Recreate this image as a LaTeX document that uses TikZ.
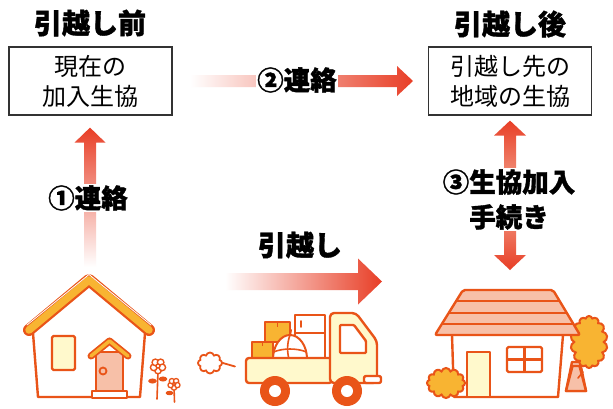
\documentclass[tikz,border=0pt]{standalone}
\usepackage{fontspec}
\setmainfont{Noto Sans CJK JP}
\newfontfamily\heavyjp{Noto Sans CJK JP}[BoldFeatures={FakeBold=1.3}]
\usetikzlibrary{shapes.symbols,calc}

\definecolor{arrowred}{RGB}{232,62,38}
\definecolor{midred}{RGB}{244,170,148}
\definecolor{lineor}{RGB}{233,84,24}
\definecolor{roofyel}{RGB}{248,180,50}
\definecolor{paleyel}{RGB}{255,249,204}
\definecolor{pinkfill}{RGB}{247,192,168}
\definecolor{boxline}{RGB}{51,51,51}

\tikzset{
  title/.style={font=\fontsize{28}{30}\selectfont\heavyjp\bfseries, text=black, inner sep=0pt},
  infobox/.style={draw=boxline, line width=1.2pt, minimum width=163pt,
    minimum height=68pt, align=center, font=\fontsize{24}{30}\selectfont, inner sep=0pt},
  steplabel/.style={font=\fontsize{26.5}{35}\selectfont\heavyjp\bfseries, fill=white,
    inner sep=1pt, align=center},
  ol/.style={draw=lineor, line width=2.4pt, line join=round, line cap=round},
  bush/.style={cloud, draw=lineor, fill=roofyel, line width=2pt, inner sep=0pt},
}

\begin{document}
\begin{tikzpicture}[x=1pt,y=-1pt]
\useasboundingbox[fill=white] (0,0) rectangle (613,408);

% ---------- titles and boxes ----------
\node[title] (tbefore) at (90,23) {引越し前};
\node[title] (tafter) at (510,24) {引越し後};
\node[infobox] (cur) at (90.5,81) {現在の\\加入生協};
\node[infobox] (dest) at (510,81) {引越し先の\\地域の生協};

% ---------- anchor points of the arrows ----------
\coordinate (h1top) at (90,267);
\coordinate (curtip) at ($(cur.south)+(-0.5,12)$);
\coordinate (c2s) at (190,81);
\coordinate (c2e) at (413,81);
\coordinate (d3top) at ($(dest.south)+(0,5)$);
\coordinate (d3mid) at (510,195);
\coordinate (d3bot) at (510,270);
\coordinate (mvs) at (225,281.5);
\coordinate (mve) at (382,281.5);

% (1) upward arrow from the old house to the current co-op
\shade[top color=arrowred, middle color=arrowred!55!white, bottom color=white]
  ($(h1top)+(-6,0)$) -- ($(curtip)+(-6,15)$) -- ($(curtip)+(-15.5,15)$) -- (curtip)
  -- ($(curtip)+(15.5,15)$) -- ($(curtip)+(6,15)$) -- ($(h1top)+(6,0)$) -- cycle;
\node[steplabel] (l1) at (88,198) {①連絡};

% (2) arrow between the two co-ops
\shade[left color=white, right color=arrowred]
  ($(c2s)+(0,-6)$) -- ($(c2e)+(-16,-6)$) -- ($(c2e)+(-16,-15)$) -- (c2e)
  -- ($(c2e)+(-16,15)$) -- ($(c2e)+(-16,6)$) -- ($(c2s)+(0,6)$) -- cycle;
\node[steplabel] (l2) at (297,80) {②連絡};

% (3) two-way arrow between the new co-op and the new house
\shade[top color=arrowred, bottom color=midred]
  (d3top) -- ($(d3top)+(16,15)$) -- ($(d3top)+(6,15)$) -- ($(d3mid)+(6,0)$)
  -- ($(d3mid)+(-6,0)$) -- ($(d3top)+(-6,15)$) -- ($(d3top)+(-16,15)$) -- cycle;
\shade[top color=midred, bottom color=arrowred]
  (d3bot) -- ($(d3bot)+(16,-15)$) -- ($(d3bot)+(6,-15)$) -- ($(d3mid)+(6,0)$)
  -- ($(d3mid)+(-6,0)$) -- ($(d3bot)+(-6,-15)$) -- ($(d3bot)+(-16,-15)$) -- cycle;
\node[steplabel] (l3) at (509,199.5) {③生協加入\\手続き};

% moving arrow
\shade[left color=white, right color=arrowred]
  ($(mvs)+(0,-8.5)$) -- ($(mve)+(-24,-8.5)$) -- ($(mve)+(-24,-23)$) -- (mve)
  -- ($(mve)+(-24,23)$) -- ($(mve)+(-24,8.5)$) -- ($(mvs)+(0,8.5)$) -- cycle;
\node[title] (lmove) at (300,245) {引越し};

% ---------- old house ----------
\draw[ol, fill=white] (33,333) -- (38,397) -- (140,397) -- (145,333);
\draw[lineor, line width=12pt, line cap=round, line join=round] (29,330) -- (89,280) -- (149,330);
\draw[roofyel, line width=7.5pt, line cap=round, line join=round] (29,330) -- (89,280) -- (149,330);
\draw[white, line width=0.8pt, line cap=round] (27,325) -- (89,274.5) -- (151,325);
\draw[ol, fill=paleyel, rounded corners=1.5pt] (52,336) rectangle (75,370);
\draw[ol, fill=pinkfill] (96,352) rectangle (123,393);
\draw[lineor, line width=7pt, line cap=round, line join=round] (91,356) -- (109.5,341) -- (128,356);
\draw[roofyel, line width=3.5pt, line cap=round, line join=round] (91,356) -- (109.5,341) -- (128,356);
\draw[ol, line width=1.8pt, fill=pinkfill] (103,371) circle (3.5);
\draw[ol, fill=white] (92,391) rectangle (127,398);

% flowers
\draw[lineor, line width=1.6pt, line cap=round] (158,371) -- (157,399);
\draw[lineor, line width=1.4pt, fill=lineor] (152.5,381) ellipse (3.5 and 1.8);
\draw[lineor, line width=1.4pt, fill=lineor] (163,379) ellipse (3.5 and 1.8);
\foreach \a in {90,162,234,306,18}
  \draw[lineor, line width=1.4pt, fill=white] ($(158,366)+(\a:4.5)$) circle (3.3);
\draw[lineor, line width=1.4pt, fill=white] (158,366) circle (2);
\draw[lineor, line width=1.6pt, line cap=round] (174,387) -- (174.5,402);
\draw[lineor, line width=1.4pt, fill=lineor] (169.5,393) ellipse (3 and 1.5);
\foreach \a in {90,162,234,306,18}
  \draw[lineor, line width=1.3pt, fill=white] ($(174,384)+(\a:3.6)$) circle (2.6);
\draw[lineor, line width=1.3pt, fill=white] (174,384) circle (1.6);

% ---------- truck ----------
\node[cloud, cloud puffs=8, draw=lineor, fill=white, line width=1.8pt,
  minimum width=24pt, minimum height=21pt, aspect=1.15, inner sep=0pt] (puff) at (210,363) {};
\coordinate (exhaust) at (235,366.5);
\draw[lineor, line width=1.8pt, line cap=round] (puff.east) -- (exhaust);

\draw[ol, fill=roofyel] (265,322) rectangle (290,342);
\draw[lineor, line width=1.6pt] (277.5,322) -- (277.5,327);
\draw[ol, fill=roofyel] (252,342) rectangle (273,358);
\draw[lineor, line width=1.6pt] (262.5,342) -- (262.5,346);
\draw[ol, fill=white] (295,315) rectangle (325,358);
\draw[lineor, line width=1.8pt] (295,333) -- (325,333);
\draw[lineor, line width=1.8pt, line cap=round] (301,321) -- (301,327);
\begin{scope}
  \clip (260,320) rectangle (320,358);
  \draw[ol, line width=2pt, fill=white] (290,359) ellipse (17 and 24);
  \draw[lineor, line width=1.6pt] (273.5,352) .. controls (283,348) and (297,348) .. (306.5,352);
  \draw[lineor, line width=1.6pt] (290,335) .. controls (287,343) and (287,352) .. (289,359);
\end{scope}
\draw[lineor, line width=2pt, line cap=round] (290,335) -- (291,330);

\draw[ol, fill=paleyel, rounded corners=3pt] (246,358) rectangle (332,383);
\draw[ol, fill=paleyel, rounded corners=4pt]
  (330,383) -- (330,313) -- (356,313) -- (377,341) -- (377,383) -- cycle;
\draw[ol, fill=white, rounded corners=1pt]
  (340,325) -- (354,325) -- (366,341) -- (366,353) -- (340,353) -- cycle;
\draw[ol, fill=white, rounded corners=2pt] (364,376) rectangle (381,383);
\foreach \c in {(275,391),(347,391)} {
  \fill[lineor] \c circle (15);
  \fill[white] \c circle (6);
}

% ---------- new house ----------
\draw[ol, fill=pinkfill] (572,362) -- (580,362) -- (586,391) -- (566,391) -- cycle;
\node[bush, cloud puffs=14, minimum width=37pt, minimum height=52pt, aspect=0.75] (crown) at (589,342) {};
\draw[ol, fill=pinkfill] (572.5,366) -- (579.5,366) -- (586,391) -- (566,391) -- cycle;
\draw[lineor, line width=1.6pt, line cap=round] (578,378) -- (583,372);
\draw[ol, fill=white] (452,335) -- (454,397) -- (558,397) -- (563,335);
\draw[ol, fill=pinkfill, rounded corners=2pt] (463,290) -- (553,290) -- (580,335) -- (435,335) -- cycle;
\draw[lineor, line width=2.4pt] (456.2,301) -- (559.6,301);
\draw[lineor, line width=2.4pt] (448.7,313) -- (566.8,313);
\draw[lineor, line width=2.4pt] (441.8,324) -- (573.4,324);
\draw[ol, fill=paleyel] (467,352) rectangle (490,397);
\draw[ol, fill=white, rounded corners=1.5pt] (507,347) rectangle (542,372);
\draw[lineor, line width=2.4pt] (524.5,347) -- (524.5,372);
\draw[lineor, line width=2.4pt] (507,359.5) -- (542,359.5);
\node[bush, cloud puffs=12, minimum width=38pt, minimum height=30pt, aspect=1.25] (shrub) at (446,383) {};

\end{tikzpicture}
\end{document}
